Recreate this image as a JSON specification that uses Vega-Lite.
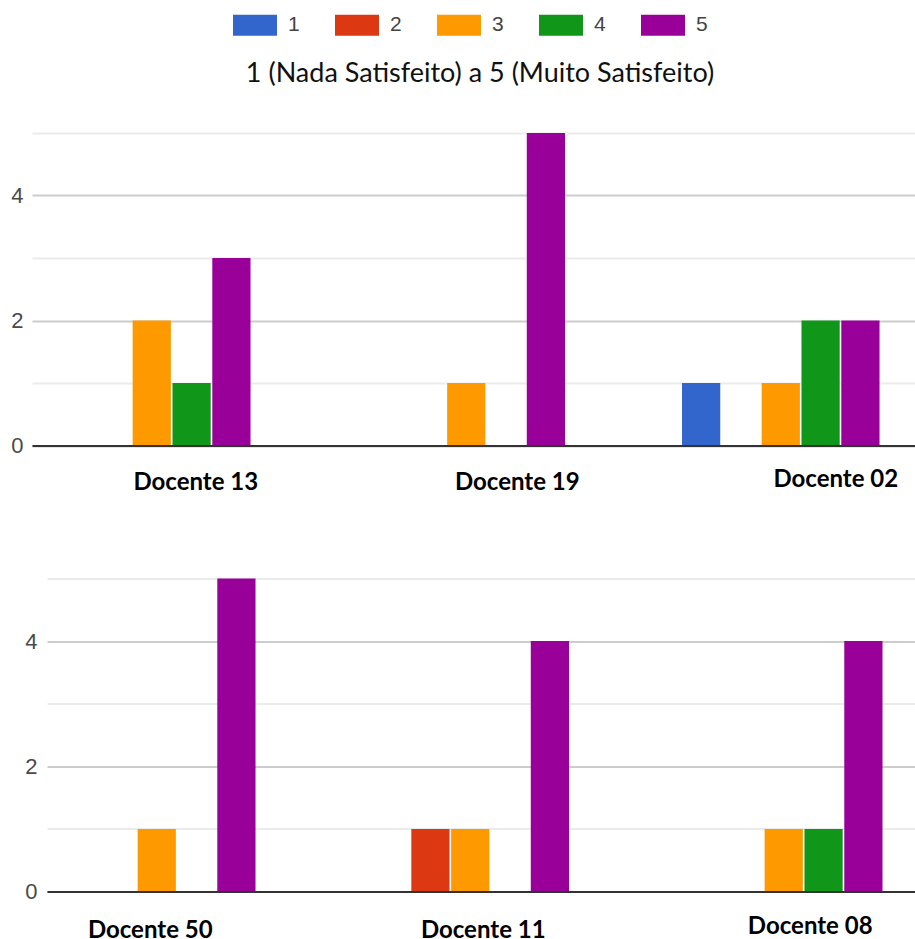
{
  "$schema": "https://vega.github.io/schema/vega-lite/v6.json",
  "padding": {"left": 10, "top": 3, "right": 0, "bottom": 0},
  "background": "white",
  "data": {
    "values": [
      {"painel": 1, "docente": "Docente 13", "nota": "1", "n": 0},
      {"painel": 1, "docente": "Docente 13", "nota": "2", "n": 0},
      {"painel": 1, "docente": "Docente 13", "nota": "3", "n": 2},
      {"painel": 1, "docente": "Docente 13", "nota": "4", "n": 1},
      {"painel": 1, "docente": "Docente 13", "nota": "5", "n": 3},
      {"painel": 1, "docente": "Docente 19", "nota": "1", "n": 0},
      {"painel": 1, "docente": "Docente 19", "nota": "2", "n": 0},
      {"painel": 1, "docente": "Docente 19", "nota": "3", "n": 1},
      {"painel": 1, "docente": "Docente 19", "nota": "4", "n": 0},
      {"painel": 1, "docente": "Docente 19", "nota": "5", "n": 5},
      {"painel": 1, "docente": "Docente 02", "nota": "1", "n": 1},
      {"painel": 1, "docente": "Docente 02", "nota": "2", "n": 0},
      {"painel": 1, "docente": "Docente 02", "nota": "3", "n": 1},
      {"painel": 1, "docente": "Docente 02", "nota": "4", "n": 2},
      {"painel": 1, "docente": "Docente 02", "nota": "5", "n": 2},
      {"painel": 2, "docente": "Docente 50", "nota": "1", "n": 0},
      {"painel": 2, "docente": "Docente 50", "nota": "2", "n": 0},
      {"painel": 2, "docente": "Docente 50", "nota": "3", "n": 1},
      {"painel": 2, "docente": "Docente 50", "nota": "4", "n": 0},
      {"painel": 2, "docente": "Docente 50", "nota": "5", "n": 5},
      {"painel": 2, "docente": "Docente 11", "nota": "1", "n": 0},
      {"painel": 2, "docente": "Docente 11", "nota": "2", "n": 1},
      {"painel": 2, "docente": "Docente 11", "nota": "3", "n": 1},
      {"painel": 2, "docente": "Docente 11", "nota": "4", "n": 0},
      {"painel": 2, "docente": "Docente 11", "nota": "5", "n": 4},
      {"painel": 2, "docente": "Docente 08", "nota": "1", "n": 0},
      {"painel": 2, "docente": "Docente 08", "nota": "2", "n": 0},
      {"painel": 2, "docente": "Docente 08", "nota": "3", "n": 1},
      {"painel": 2, "docente": "Docente 08", "nota": "4", "n": 1},
      {"painel": 2, "docente": "Docente 08", "nota": "5", "n": 4}
    ]
  },
  "vconcat": [
    {
      "transform": [{"filter": "datum.painel == 1"}],
      "width": 883,
      "height": 312.5,
      "title": {"text": "1 (Nada Satisfeito) a 5 (Muito Satisfeito)", "font": "Lato", "fontSize": 27, "fontWeight": "normal", "color": "#111111", "offset": 45, "dx": 6.5},
      "mark": {"type": "bar"},
      "encoding": {
        "x": {
          "field": "docente", "type": "nominal", "sort": null,
          "scale": {"paddingInner": 0.372, "paddingOuter": 0.0898, "align": 0.372},
          "axis": {
            "title": null, "ticks": false, "grid": false, "zindex": 1,
            "domainColor": "#333333", "domainWidth": 2, "labelAngle": 0,
            "labelFont": "Lato", "labelFontWeight": "bold", "labelFontSize": 24, "labelColor": "#000000",
            "labelPadding": {"condition": {"test": "datum.value == 'Docente 02'", "value": 21.5}, "value": 25},
            "labelOffset": {"condition": [{"test": "datum.value == 'Docente 13'", "value": 44}, {"test": "datum.value == 'Docente 19'", "value": 51}], "value": 55}
          }
        },
        "xOffset": {"field": "nota", "type": "nominal", "scale": {"paddingInner": 0.04, "paddingOuter": 0}},
        "y": {
          "field": "n", "type": "quantitative",
          "scale": {"domain": [0, 5], "nice": false},
          "axis": {
            "title": null, "values": [0, 1, 2, 3, 4, 5], "domain": false, "ticks": false,
            "labelExpr": "datum.value % 2 == 0 ? datum.label : ''",
            "labelFont": "Liberation Sans", "labelFontSize": 22, "labelColor": "#4a4a4a", "labelPadding": 9,
            "gridWidth": 2,
            "gridColor": {"condition": {"test": "datum.value % 2 == 0", "value": "#cccccc"}, "value": "#ebebeb"}
          }
        },
        "color": {
          "field": "nota", "type": "nominal",
          "scale": {"domain": ["1", "2", "3", "4", "5"], "range": ["#3366cc", "#dc3912", "#ff9900", "#109618", "#990099"]},
          "legend": {
            "orient": "top", "direction": "horizontal",
            "title": ".", "titleOrient": "left", "titleColor": "#ffffff", "titleFontSize": 10, "titlePadding": 13,
            "symbolType": "M-1,-0.48L1,-0.48L1,0.48L-1,0.48Z", "symbolSize": 1936,
            "symbolStrokeWidth": 0, "symbolOpacity": 1,
            "labelFont": "Liberation Sans", "labelFontSize": 21, "labelColor": "#444444",
            "labelOffset": 11, "columnPadding": 35, "offset": 24
          }
        }
      }
    },
    {
      "spacing": -9,
      "hconcat": [
        {
          "width": 1,
          "height": 1,
          "transform": [{"filter": "false"}],
          "mark": {"type": "point"},
          "encoding": {}
        },
        {
          "transform": [{"filter": "datum.painel == 2"}],
          "width": 868,
          "height": 313,
          "mark": {"type": "bar"},
          "encoding": {
            "x": {
              "field": "docente", "type": "nominal", "sort": null,
              "scale": {"paddingInner": 0.37, "paddingOuter": 0.0694, "align": 0.253},
              "axis": {
                "title": null, "ticks": false, "grid": false, "zindex": 1,
                "domainColor": "#333333", "domainWidth": 2, "labelAngle": 0,
                "labelFont": "Lato", "labelFontWeight": "bold", "labelFontSize": 24, "labelColor": "#000000",
                "labelPadding": {"condition": {"test": "datum.value == 'Docente 08'", "value": 23}, "value": 26.5},
                "labelOffset": {"condition": [{"test": "datum.value == 'Docente 50'", "value": -6.5}, {"test": "datum.value == 'Docente 11'", "value": 13}], "value": 26.5}
              }
            },
            "xOffset": {"field": "nota", "type": "nominal", "scale": {"paddingInner": 0.04, "paddingOuter": 0}},
            "y": {
              "field": "n", "type": "quantitative",
              "scale": {"domain": [0, 5], "nice": false},
              "axis": {
                "title": null,
                "values": [0, 1, 2, 3, 4, 5], "domain": false, "ticks": false,
                "labelExpr": "datum.value % 2 == 0 ? datum.label : ''",
                "labelFont": "Liberation Sans", "labelFontSize": 22, "labelColor": "#4a4a4a", "labelPadding": 10,
                "gridWidth": 2,
                "gridColor": {"condition": {"test": "datum.value % 2 == 0", "value": "#cccccc"}, "value": "#ebebeb"}
              }
            },
            "color": {"field": "nota", "type": "nominal"}
          }
        }
      ]
    }
  ],
  "spacing": 83.5,
  "config": {
    "view": {"stroke": null},
    "legend": {"layout": {"top": {"anchor": "middle"}}}
  }
}
